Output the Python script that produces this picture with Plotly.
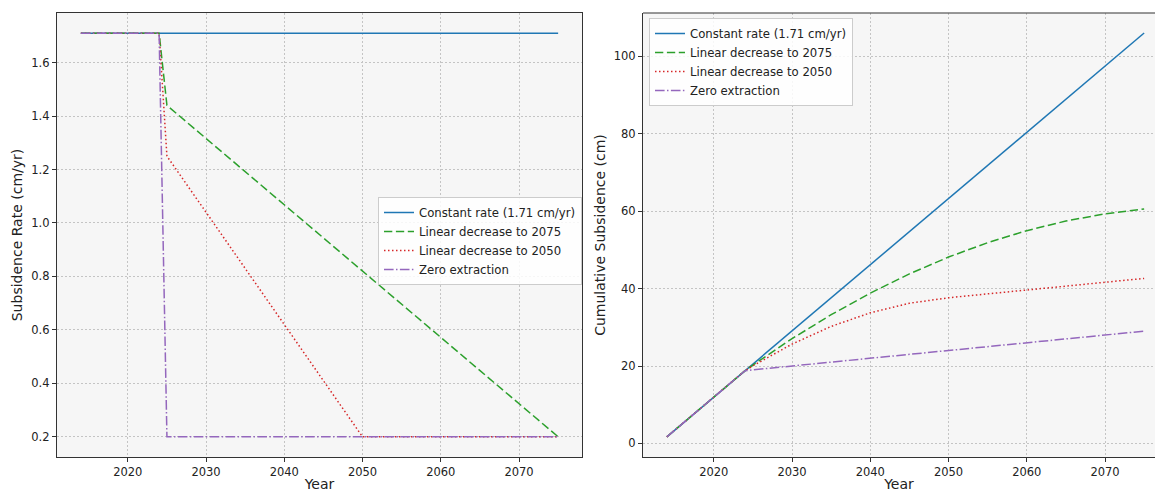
import plotly.graph_objects as go

# Annual subsidence rate scenarios (cm/yr), given at their breakpoint years
const_years = [2014, 2075]
const_rate = [1.71, 1.71]

lin2075_years = [2014, 2024, 2025, 2075]
lin2075_rate = [1.71, 1.71, 1.44, 0.20]

lin2050_years = [2014, 2024, 2025, 2050, 2075]
lin2050_rate = [1.71, 1.71, 1.25, 0.20, 0.20]

zero_years = [2014, 2024, 2025, 2075]
zero_rate = [1.71, 1.71, 0.20, 0.20]

# Cumulative subsidence (cm)
cum_years = [2014, 2019, 2024, 2025, 2030, 2035, 2040, 2045, 2050, 2055, 2060, 2065, 2070, 2075]
cum_const = [1.71, 10.26, 18.81, 20.52, 29.07, 37.62, 46.17, 54.72, 63.27, 71.82, 80.37, 88.92, 97.47, 106.02]
cum_lin2075 = [1.71, 10.26, 18.81, 20.25, 27.07, 33.26, 38.84, 43.80, 48.15, 51.87, 54.97, 57.46, 59.32, 60.57]
cum_lin2050 = [1.71, 10.26, 18.81, 20.06, 25.67, 30.24, 33.75, 36.22, 37.64, 38.64, 39.64, 40.64, 41.64, 42.64]
cum_zero = [1.71, 10.26, 18.81, 19.01, 20.01, 21.01, 22.01, 23.01, 24.01, 25.01, 26.01, 27.01, 28.01, 29.01]

names = ["Constant rate (1.71 cm/yr)", "Linear decrease to 2075",
         "Linear decrease to 2050", "Zero extraction"]
colors = ["#1f77b4", "#2ca02c", "#d62728", "#9467bd"]
dashes = ["solid", "8.3px,3.6px", "1.5px,2.5px", "9.6px,2.4px,1.5px,2.4px"]

FONT = "DejaVu Sans"
W, H = 1155, 492
L, R, T, B = 57, 0, 13, 35

fig = go.Figure()

rate_series = [(const_years, const_rate), (lin2075_years, lin2075_rate),
               (lin2050_years, lin2050_rate), (zero_years, zero_rate)]
for (xs, ys), n, c, d in zip(rate_series, names, colors, dashes):
    fig.add_trace(go.Scatter(x=xs, y=ys, mode="lines", name=n,
                             line=dict(color=c, width=1.5, dash=d),
                             xaxis="x", yaxis="y", legend="legend"))

cum_series = [cum_const, cum_lin2075, cum_lin2050, cum_zero]
for ys, n, c, d in zip(cum_series, names, colors, dashes):
    fig.add_trace(go.Scatter(x=cum_years, y=ys, mode="lines", name=n,
                             line=dict(color=c, width=1.5, dash=d),
                             xaxis="x2", yaxis="y2", legend="legend2"))

pw = W - L - R
ph = H - T - B
left_w = 525
gap = 61

axis_common = dict(
    showline=True, linecolor="#333333", linewidth=1.2,
    ticks="outside", ticklen=4, tickcolor="#333333", tickwidth=1,
    showgrid=True, gridcolor="#c4c4c4", griddash="2px,2px", gridwidth=0.8,
    zeroline=False, automargin=False,
    tickfont=dict(family=FONT, size=11.5, color="#222222"),
)

xtickvals = [2020, 2030, 2040, 2050, 2060, 2070]
title_font = dict(family=FONT, size=14, color="#222222")

fig.update_layout(
    width=W, height=H,
    margin=dict(l=L, r=R, t=T, b=B, pad=0, autoexpand=False),
    paper_bgcolor="white", plot_bgcolor="#f6f6f6",
    font=dict(family=FONT, size=11.5, color="#222222"),
    xaxis=dict(domain=[0, left_w / pw], range=[2010.95, 2078.05],
               tickvals=xtickvals, mirror=True, anchor="y",
               title=dict(text="Year", font=title_font, standoff=7),
               **axis_common),
    yaxis=dict(domain=[0, 1], range=[0.1245, 1.7855], anchor="x",
               tickvals=[0.2, 0.4, 0.6, 0.8, 1.0, 1.2, 1.4, 1.6],
               tickformat=".1f", mirror=True,
               title=dict(text="Subsidence Rate (cm/yr)", font=title_font, standoff=5),
               **axis_common),
    xaxis2=dict(domain=[(left_w + gap) / pw, 1],
                range=[2010.95, 2010.95 + 67.1 * (W - L - left_w - gap) / left_w],
                tickvals=xtickvals, mirror=False, anchor="y2",
                title=dict(text="Year", font=title_font, standoff=7),
                **axis_common),
    yaxis2=dict(domain=[0, 1], range=[-3.5, 111.2], anchor="x2",
                tickvals=[0, 20, 40, 60, 80, 100], mirror=False,
                title=dict(text="Cumulative Subsidence (cm)", font=title_font, standoff=4),
                **axis_common),
    legend=dict(x=(378 - L) / pw, y=(H - B - 197) / ph, xanchor="left", yanchor="top",
                bgcolor="rgba(255,255,255,0.85)", bordercolor="#cccccc", borderwidth=1,
                font=dict(family=FONT, size=11.7), itemwidth=30, tracegroupgap=0),
    legend2=dict(x=(649 - L) / pw, y=(H - B - 18) / ph, xanchor="left", yanchor="top",
                 bgcolor="rgba(255,255,255,0.85)", bordercolor="#cccccc", borderwidth=1,
                 font=dict(family=FONT, size=11.7), itemwidth=30, tracegroupgap=0),
    showlegend=True,
)

# Top border line for the right panel
fig.add_shape(type="line", xref="x2 domain", yref="y2 domain",
              x0=0, x1=1, y0=1, y1=1, line=dict(color="#333333", width=1.2))

fig.write_html("out.html")
